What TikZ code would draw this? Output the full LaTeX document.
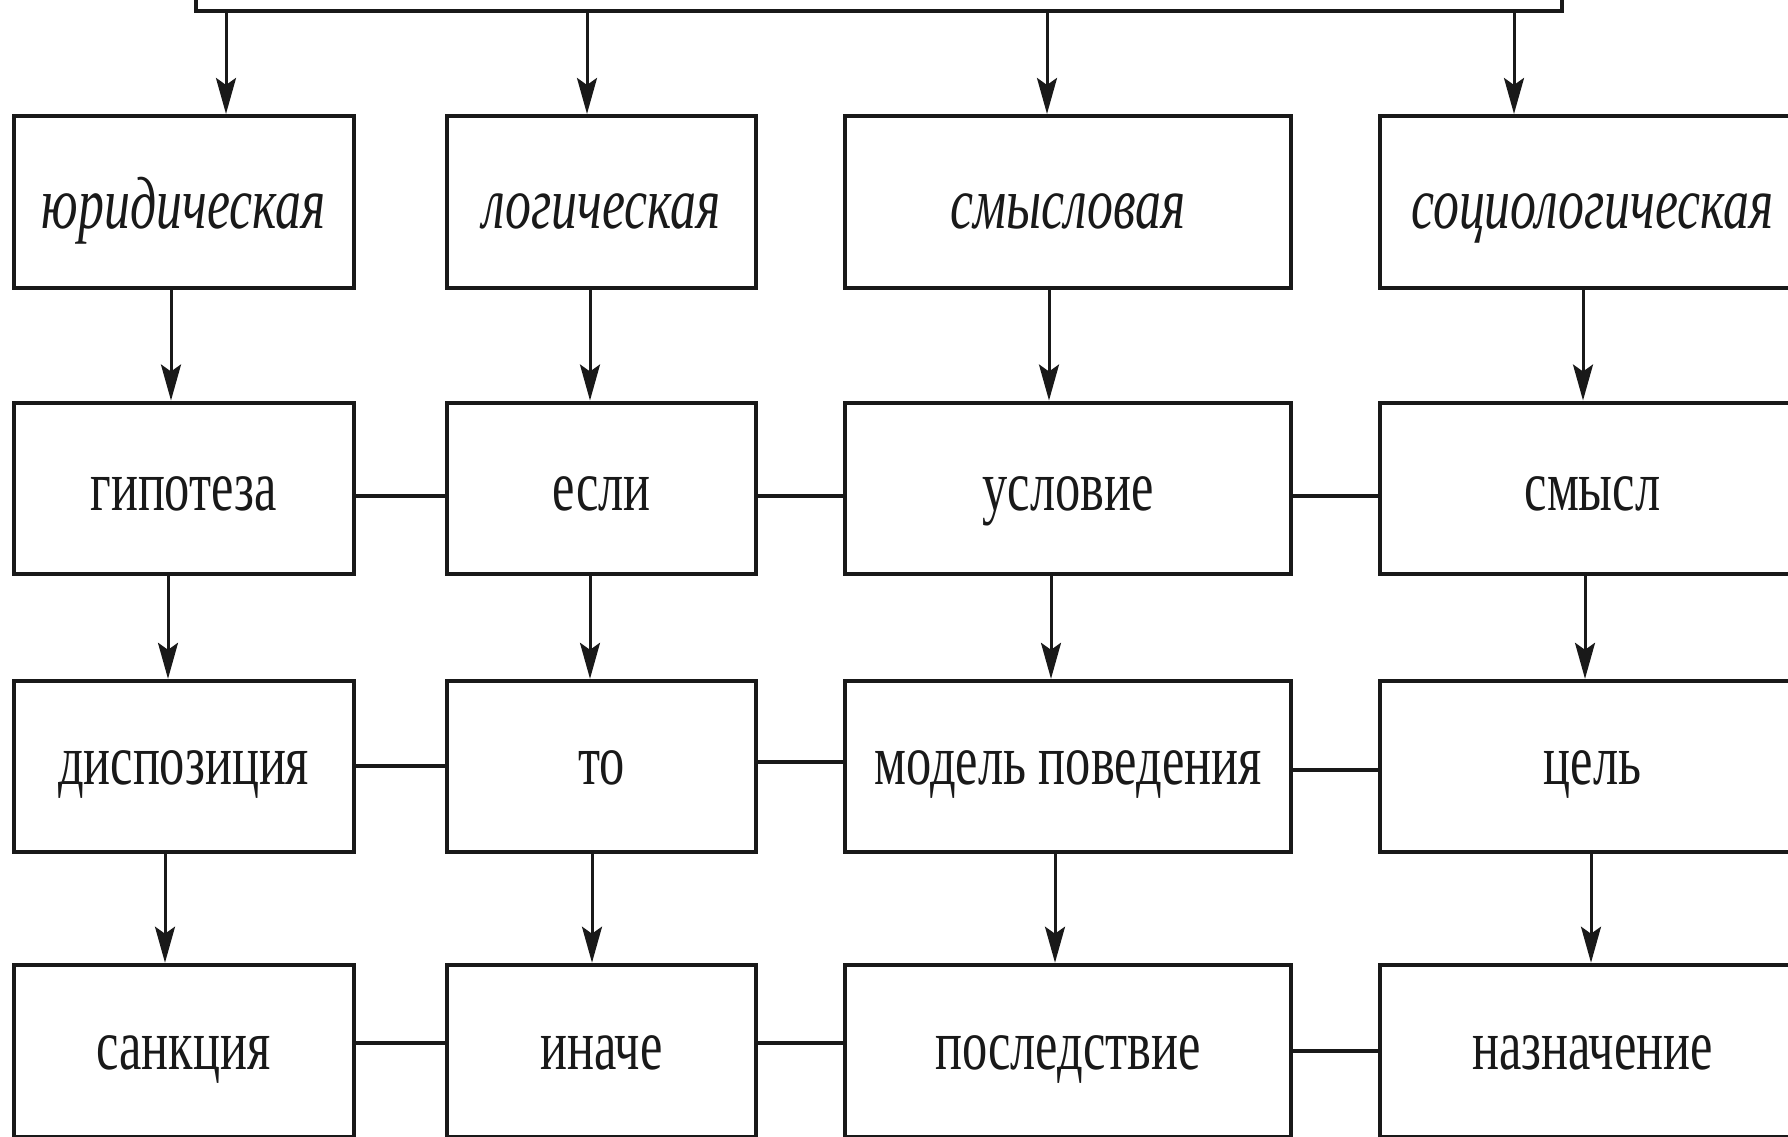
\documentclass[tikz,border=0pt]{standalone}
\usepackage{fontspec}
\setmainfont{Liberation Serif}[FakeStretch=0.7]
\usetikzlibrary{arrows.meta}
\begin{document}
\begin{tikzpicture}[x=1pt,y=-1pt,
  box/.style={draw=black!90, line width=4pt, rectangle, inner sep=0pt,
    font=\fontsize{72}{80}\selectfont, text=black!90},
  colA/.style={minimum width=339.8pt},
  colB/.style={minimum width=309pt},
  colC/.style={minimum width=446pt},
  colD/.style={minimum width=425pt},
  rowone/.style={minimum height=172.5pt, text height=53pt, text depth=0pt, font=\fontsize{74}{80}\selectfont\itshape},
  rowtwo/.style={minimum height=171pt, text height=45pt, text depth=0pt},
  rowthree/.style={minimum height=171pt, text height=37pt, text depth=0pt},
  rowfour/.style={minimum height=172pt, text height=37pt, text depth=0pt},
  arr/.style={draw=black!90, line width=3pt, -{Stealth[length=36pt,width=20pt,inset=7pt]}},
  link/.style={draw=black!90, line width=4pt}]
\useasboundingbox (0,0) rectangle (1788,1136);
\clip (0,0) rectangle (1788,1136);
% top box (cut by the top edge)
\node[draw=black!90, line width=4pt, rectangle, inner sep=0pt,
  minimum width=1366pt, minimum height=111.4pt] (top) at (879,-44.3) {};
% row 1
\node[box,colA,rowone] (a1) at (183.6,202.2) {юридическая};
\node[box,colB,rowone] (b1) at (601.5,202.2) {логическая};
\node[box,colC,rowone] (c1) at (1068,202.2) {смысловая};
\node[box,colD,rowone] (d1) at (1592.5,202.2) {социологическая};
% row 2
\node[box,colA,rowtwo] (a2) at (183.6,488) {гипотеза};
\node[box,colB,rowtwo] (b2) at (601.5,488) {если};
\node[box,colC,rowtwo] (c2) at (1068,488) {условие};
\node[box,colD,rowtwo] (d2) at (1592.5,488) {смысл};
% row 3
\node[box,colA,rowthree] (a3) at (183.6,766.3) {диспозиция};
\node[box,colB,rowthree] (b3) at (601.5,766.3) {то};
\node[box,colC,rowthree] (c3) at (1068,766.3) {модель поведения};
\node[box,colD,rowthree] (d3) at (1592.5,766.3) {цель};
% row 4
\node[box,colA,rowfour] (a4) at (183.6,1050.7) {санкция};
\node[box,colB,rowfour] (b4) at (601.5,1050.7) {иначе};
\node[box,colC,rowfour] (c4) at (1068,1050.7) {последствие};
\node[box,colD,rowfour] (d4) at (1592.5,1050.7) {назначение};
% x positions of the arrows
\coordinate (t1) at (226,0);  \coordinate (t2) at (587,0);
\coordinate (t3) at (1047,0); \coordinate (t4) at (1514,0);
\coordinate (p1) at (171,0);  \coordinate (p2) at (590,0);
\coordinate (p3) at (1049,0); \coordinate (p4) at (1583,0);
\coordinate (q1) at (168,0);  \coordinate (q2) at (590,0);
\coordinate (q3) at (1051,0); \coordinate (q4) at (1585,0);
\coordinate (r1) at (165,0);  \coordinate (r2) at (592,0);
\coordinate (r3) at (1055,0); \coordinate (r4) at (1591,0);
% y positions of the horizontal links
\coordinate (h2) at (0,496);
\coordinate (h3a) at (0,766); \coordinate (h3b) at (0,762); \coordinate (h3c) at (0,770);
\coordinate (h4a) at (0,1043); \coordinate (h4c) at (0,1051);
% arrows from top box
\draw[arr] (top.south -| t1) -- (a1.north -| t1);
\draw[arr] (top.south -| t2) -- (b1.north -| t2);
\draw[arr] (top.south -| t3) -- (c1.north -| t3);
\draw[arr] (top.south -| t4) -- (d1.north -| t4);
% row 1 -> row 2
\draw[arr] (a1.south -| p1) -- (a2.north -| p1);
\draw[arr] (b1.south -| p2) -- (b2.north -| p2);
\draw[arr] (c1.south -| p3) -- (c2.north -| p3);
\draw[arr] (d1.south -| p4) -- (d2.north -| p4);
% row 2 -> row 3
\draw[arr] (a2.south -| q1) -- (a3.north -| q1);
\draw[arr] (b2.south -| q2) -- (b3.north -| q2);
\draw[arr] (c2.south -| q3) -- (c3.north -| q3);
\draw[arr] (d2.south -| q4) -- (d3.north -| q4);
% row 3 -> row 4
\draw[arr] (a3.south -| r1) -- (a4.north -| r1);
\draw[arr] (b3.south -| r2) -- (b4.north -| r2);
\draw[arr] (c3.south -| r3) -- (c4.north -| r3);
\draw[arr] (d3.south -| r4) -- (d4.north -| r4);
% horizontal links
\draw[link] (a2.east |- h2) -- (b2.west |- h2);
\draw[link] (b2.east |- h2) -- (c2.west |- h2);
\draw[link] (c2.east |- h2) -- (d2.west |- h2);
\draw[link] (a3.east |- h3a) -- (b3.west |- h3a);
\draw[link] (b3.east |- h3b) -- (c3.west |- h3b);
\draw[link] (c3.east |- h3c) -- (d3.west |- h3c);
\draw[link] (a4.east |- h4a) -- (b4.west |- h4a);
\draw[link] (b4.east |- h4a) -- (c4.west |- h4a);
\draw[link] (c4.east |- h4c) -- (d4.west |- h4c);
\end{tikzpicture}
\end{document}
